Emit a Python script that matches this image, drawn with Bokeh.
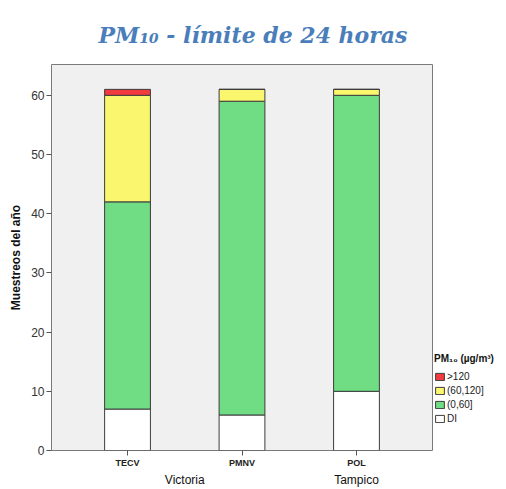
from bokeh.plotting import figure
from bokeh.models import (FactorRange, Legend, LegendItem, Range1d, Title,
                          ColumnDataSource, FixedTicker)
from bokeh.embed import file_html
from bokeh.resources import INLINE

# ---- data ----
cities = ["Victoria", "Victoria", "Tampico"]
stations = ["TECV", "PMNV", "POL"]
di = [7, 6, 10]
r0_60 = [35, 53, 50]
r60_120 = [18, 2, 1]
gt120 = [1, 0, 0]
series = ["DI", "(0,60]", "(60,120]", ">120"]
colors = ["#FFFFFF", "#70DC84", "#FAF66E", "#F23A3F"]
y_ticks = [0, 10, 20, 30, 40, 50, 60]
title_text = "PM₁₀ - límite de 24 horas"
legend_title = "PM₁₀ (µg/m³)"
y_label = "Muestreos del año"

factors = list(zip(cities, stations))
source = ColumnDataSource(dict(x=factors, **{series[0]: di, series[1]: r0_60,
                                             series[2]: r60_120, series[3]: gt120}))

x_range = FactorRange(*factors, group_padding=0, range_padding=0.164,
                      range_padding_units="absolute")

p = figure(x_range=x_range, y_range=Range1d(0, 65.2),
           frame_width=381, frame_height=386,
           min_border_left=51, min_border_right=74, min_border_top=64,
           min_border_bottom=38,
           output_backend="svg", toolbar_location=None)

p.title = Title(text=title_text, align="left", offset=47,
                text_font="DejaVu Serif", text_font_style="bold italic",
                text_font_size="22px", text_color="#4A7EBB", standoff=30,
                vertical_align="top")

renderers = p.vbar_stack(series, x="x", width=0.4, color=colors,
                         line_color="#3c3c3c", line_width=1, source=source)

p.background_fill_color = "#F0F0F0"
p.border_fill_color = "white"
p.outline_line_color = "#7a7a7a"
p.xgrid.grid_line_color = None
p.ygrid.grid_line_color = None

# y axis
p.yaxis.ticker = FixedTicker(ticks=y_ticks)
p.yaxis.axis_line_color = None
p.yaxis.major_tick_out = 5
p.yaxis.major_tick_in = 0
p.yaxis.minor_tick_line_color = None
p.yaxis.major_tick_line_color = "#555555"
p.yaxis.major_label_text_font = "Liberation Sans"
p.yaxis.major_label_text_font_size = "12px"
p.yaxis.major_label_text_color = "#333333"
p.yaxis.major_label_standoff = 2
p.yaxis.axis_label = y_label
p.yaxis.axis_label_text_font = "Liberation Sans"
p.yaxis.axis_label_text_font_style = "bold"
p.yaxis.axis_label_text_font_size = "12px"
p.yaxis.axis_label_text_color = "#111111"
p.yaxis.axis_label_standoff = 5

# x axis
p.xaxis.axis_line_color = None
p.xaxis.major_tick_out = 5
p.xaxis.major_tick_in = 0
p.xaxis.major_tick_line_color = "#555555"
p.xaxis.major_label_standoff = 2
p.xaxis.major_label_text_font = "Liberation Sans"
p.xaxis.major_label_text_font_size = "9px"
p.xaxis.major_label_text_font_style = "bold"
p.xaxis.major_label_text_color = "#222222"
p.xaxis.group_text_font = "Liberation Sans"
p.xaxis.group_text_font_size = "12px"
p.xaxis.group_text_font_style = "normal"
p.xaxis.group_text_color = "#111111"
p.xaxis.separator_line_alpha = 0

items = [LegendItem(label=s, renderers=[r]) for s, r in zip(series, renderers)][::-1]
legend = Legend(items=items, title=legend_title, location=(2, 26),
                title_text_font="Liberation Sans", title_text_font_style="bold",
                title_text_font_size="10px", title_text_color="#111111",
                label_text_font="Liberation Sans", label_text_font_size="10px",
                label_text_color="#222222", glyph_width=11, glyph_height=9,
                label_height=12, spacing=2, label_standoff=2, padding=2,
                margin=0, border_line_color=None, background_fill_alpha=0,
                title_standoff=6)
p.add_layout(legend, "right")

open("out.html", "w").write(file_html(p, INLINE))
